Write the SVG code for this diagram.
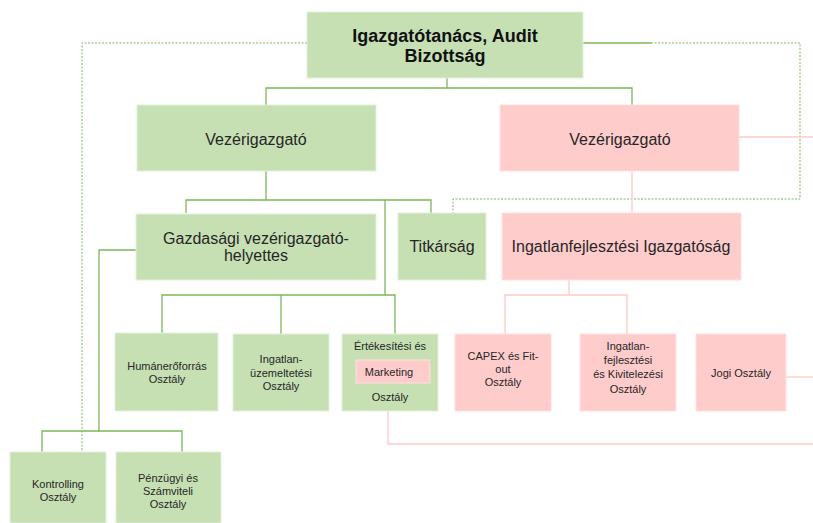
<svg xmlns="http://www.w3.org/2000/svg" width="813" height="523" viewBox="0 0 813 523">
<style>
.g{fill:#C6E0B4;stroke:#E2EFD9;stroke-width:1}
.p{fill:#FFCCCC;stroke:#FFE0E0;stroke-width:1}
.cg{fill:none;stroke:#7DB75A;stroke-width:1.3}
.cd{fill:none;stroke:#7DB75A;stroke-width:1;stroke-dasharray:2 1.5}
.cp{fill:none;stroke:#FFC9C9;stroke-width:1.3}
text{font-family:"Liberation Sans",Arial,sans-serif;fill:#262626;text-anchor:middle}
.b{font-size:18px;font-weight:bold;fill:#111}
.m{font-size:16px}
.s{font-size:11px}
</style>
<g id="connectors">
<polyline class="cd" points="307,43 82,43 82,452"/>
<polyline class="cg" points="583,43 651,43"/>
<polyline class="cd" points="651,43 800,43 800,199 453,199 453,213"/>
<polyline class="cg" points="447,78 447,88"/>
<polyline class="cg" points="266,105 266,88 632,88 632,106"/>
<polyline class="cp" points="739,137 813,137"/>
<polyline class="cp" points="632,171 632,213"/>
<polyline class="cg" points="266,171 266,200"/>
<polyline class="cg" points="186,213 186,200 431,200 431,213"/>
<polyline class="cg" points="385,200 385,295"/>
<polyline class="cg" points="136,250 99,250 99,432"/>
<polyline class="cg" points="42,452 42,431 182,431 182,452"/>
<polyline class="cg" points="162,333 162,295 395,295 395,334"/>
<polyline class="cg" points="281,295 281,334"/>
<polyline class="cp" points="569,280 569,295"/>
<polyline class="cp" points="505,334 505,295 627,295 627,334"/>
<polyline class="cp" points="786,377 813,377"/>
<polyline class="cp" points="388,411 388,444 813,444"/>
</g>
<g id="board"><rect class="g" x="307" y="12" width="276" height="66"/><text class="b" x="445" y="42">Igazgatótanács, Audit</text><text class="b" x="445" y="62">Bizottság</text></g>
<g id="ceo-green"><rect class="g" x="137" y="105" width="239" height="66"/><text class="m" x="256" y="145">Vezérigazgató</text></g>
<g id="ceo-pink"><rect class="p" x="500" y="105" width="239" height="66"/><text class="m" x="620" y="145">Vezérigazgató</text></g>
<g id="deputy"><rect class="g" x="136" y="214" width="240" height="66"/><text class="m" x="256" y="244">Gazdasági vezérigazgató-</text><text class="m" x="256" y="261">helyettes</text></g>
<g id="secretariat"><rect class="g" x="398" y="213" width="88" height="67"/><text class="m" x="442" y="252">Titkárság</text></g>
<g id="devdir"><rect class="p" x="502" y="213" width="239" height="67"/><text class="m" x="621" y="252">Ingatlanfejlesztési Igazgatóság</text></g>
<g id="hr"><rect class="g" x="115" y="333" width="103" height="78"/><text class="s" x="167" y="370">Humánerőforrás</text><text class="s" x="167" y="383">Osztály</text></g>
<g id="ops"><rect class="g" x="233" y="334" width="96" height="77"/><text class="s" x="281" y="363">Ingatlan-</text><text class="s" x="281" y="377">üzemeltetési</text><text class="s" x="281" y="390">Osztály</text></g>
<g id="sales"><rect class="g" x="342" y="334" width="96" height="77"/><text class="s" x="390" y="350">Értékesítési és</text><rect class="p" x="356" y="360" width="74" height="23" stroke="none"/><text class="s" x="389" y="376">Marketing</text><text class="s" x="390" y="401">Osztály</text></g>
<g id="capex"><rect class="p" x="455" y="334" width="96" height="77"/><text class="s" x="503" y="360">CAPEX és Fit-</text><text class="s" x="503" y="373">out</text><text class="s" x="503" y="386">Osztály</text></g>
<g id="devdept"><rect class="p" x="580" y="334" width="96" height="77"/><text class="s" x="628" y="350">Ingatlan-</text><text class="s" x="628" y="364">fejlesztési</text><text class="s" x="628" y="378">és Kivitelezési</text><text class="s" x="628" y="393">Osztály</text></g>
<g id="legal"><rect class="p" x="696" y="334" width="90" height="77"/><text class="s" x="741" y="377">Jogi Osztály</text></g>
<g id="controlling"><rect class="g" x="10" y="452" width="96" height="71"/><text class="s" x="58" y="488">Kontrolling</text><text class="s" x="58" y="501">Osztály</text></g>
<g id="finance"><rect class="g" x="116" y="452" width="105" height="71"/><text class="s" x="168" y="482">Pénzügyi és</text><text class="s" x="168" y="495">Számviteli</text><text class="s" x="168" y="508">Osztály</text></g>
</svg>
